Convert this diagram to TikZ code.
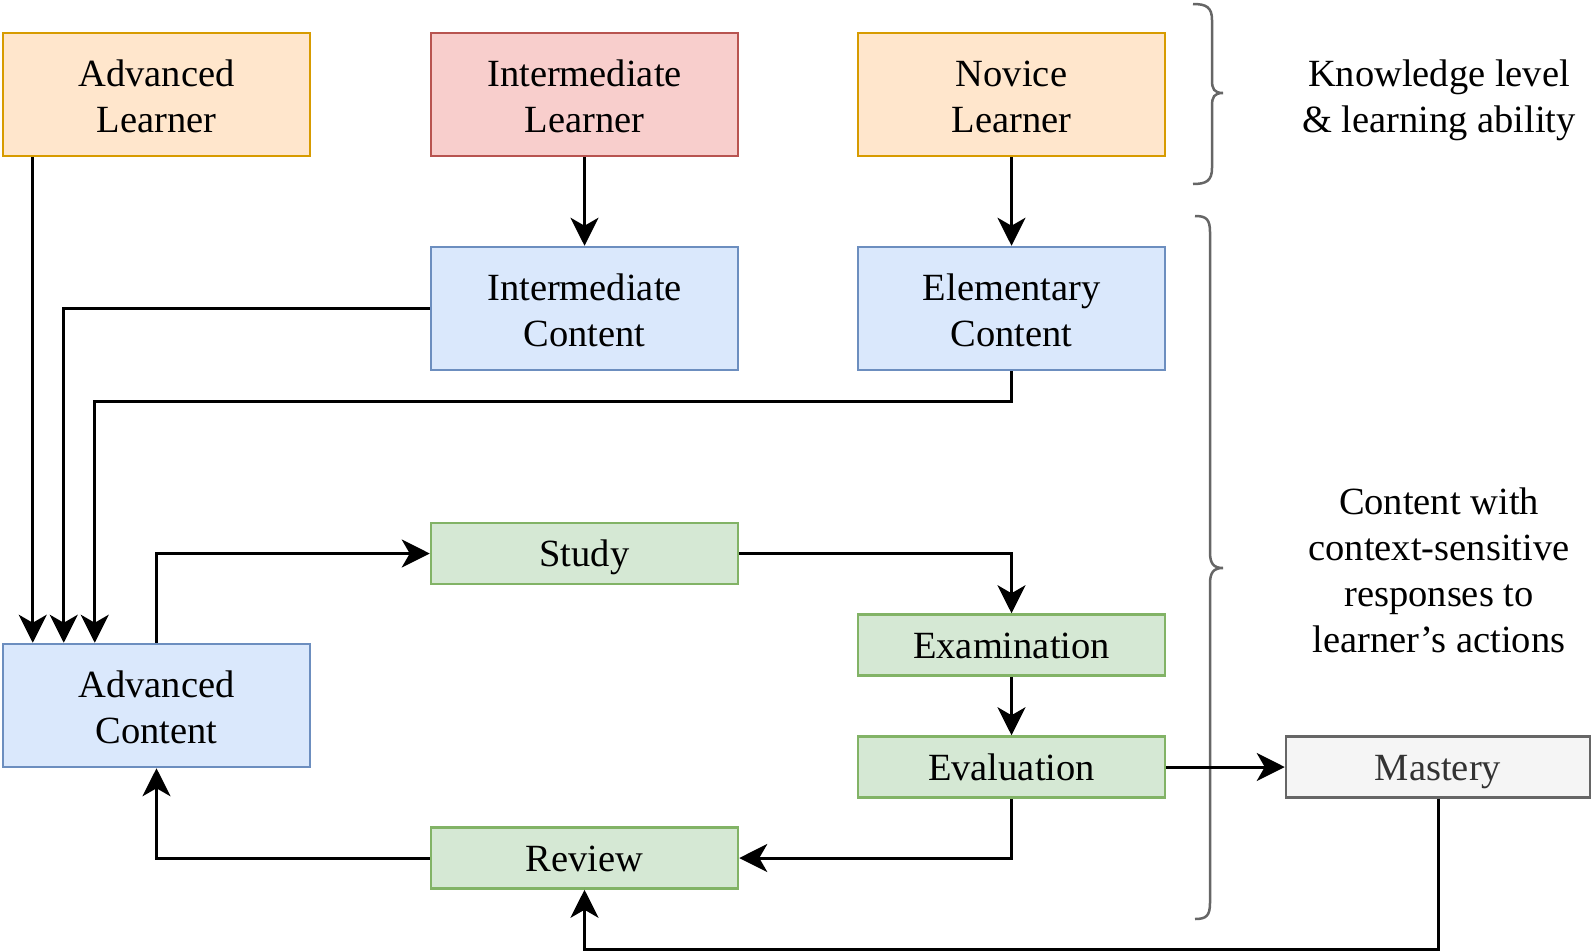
\documentclass[tikz,border=0pt]{standalone}
\usepackage{fontspec}
\setmainfont{Liberation Serif}
\usetikzlibrary{arrows.meta}
\definecolor{orgfill}{HTML}{FFE6CC}\definecolor{orgdraw}{HTML}{D79B00}
\definecolor{redfill}{HTML}{F8CECC}\definecolor{reddraw}{HTML}{B85450}
\definecolor{bluefill}{HTML}{DAE8FC}\definecolor{bluedraw}{HTML}{6C8EBF}
\definecolor{grnfill}{HTML}{D5E8D4}\definecolor{grndraw}{HTML}{82B366}
\definecolor{greyfill}{HTML}{F5F5F5}\definecolor{greydraw}{HTML}{666666}
\definecolor{greytext}{HTML}{333333}
% strut with the font's full ascent and descent, for one-line boxes
\newcommand\linestrut{\rule[-0.216em]{0pt}{1.107em}}
% taller first line, so two-line text sits a little lower in its box
\newcommand\topstrut{\rule{0pt}{31pt}}
\begin{document}
\begin{tikzpicture}[x=1pt,y=-1pt,
  txt/.style={align=center,font=\fontsize{38.5}{46}\selectfont},
  box/.style={txt,draw,line width=2.5pt,inner sep=0pt},
  bigbox/.style={box,minimum width=307pt,minimum height=123pt},
  smallbox/.style={box,minimum width=307pt,minimum height=61pt,
    execute at begin node=\linestrut, execute at end node=\linestrut},
  learnerA/.style={fill=orgfill,draw=orgdraw},
  learnerB/.style={fill=redfill,draw=reddraw},
  content/.style={fill=bluefill,draw=bluedraw},
  activity/.style={fill=grnfill,draw=grndraw},
  arr/.style={line width=3pt,-{Stealth[length=28pt,width=28pt,inset=8pt]}},
  brace/.style={draw=greydraw,line width=2.5pt}]
\useasboundingbox (0,0) rectangle (1591,951);

% learner levels
\node[bigbox,learnerA] (al) at (156.5,94.5) {\topstrut Advanced\\Learner};
\node[bigbox,learnerB] (il) at (584.5,94.5) {\topstrut Intermediate\\Learner};
\node[bigbox,learnerA] (nl) at (1011.5,94.5) {\topstrut Novice\\Learner};

% content levels
\node[bigbox,content] (ic) at (584.5,308.5) {\topstrut Intermediate\\Content};
\node[bigbox,content] (ec) at (1011.5,308.5) {\topstrut Elementary\\Content};
\node[bigbox,content] (ac) at (156.5,705.5) {\topstrut Advanced\\Content};

% learning cycle
\node[smallbox,activity] (st) at (584.5,553.5) {Study};
\node[smallbox,activity] (ex) at (1011.5,645) {Examination};
\node[smallbox,activity] (ev) at (1011.5,767) {Evaluation};
\node[smallbox,activity] (rv) at (584.5,858) {Review};
\node[smallbox,fill=greyfill,draw=greydraw,text=greytext,minimum width=304pt] (ms) at (1438,767) {Mastery};

% side labels
\node[txt] (kl) at (1439,100) {Knowledge level\\\& learning ability};
\node[txt] (cl) at (1439,570) {Content with\\context-sensitive\\responses to\\learner's actions};

% braces
\draw[brace] (1193,4) .. controls (1206,4) and (1212,7) .. (1212,20)
  -- (1212,80) .. controls (1212,89) and (1214,93) .. (1223,93)
  .. controls (1214,93) and (1212,97) .. (1212,106)
  -- (1212,168) .. controls (1212,181) and (1206,184) .. (1193,184);
\draw[brace] (1195,216) .. controls (1206,216) and (1210,219) .. (1210,232)
  -- (1210,552) .. controls (1210,563) and (1213,568) .. (1223,568)
  .. controls (1213,568) and (1210,573) .. (1210,584)
  -- (1210,903) .. controls (1210,916) and (1206,919) .. (1195,919);

% connectors
\draw[arr] (il) -- (ic);
\draw[arr] (nl) -- (ec);
\draw[arr] ([xshift=31pt]al.south west) -- ([xshift=31pt]ac.north west);
\draw[arr] (ic.west) -| ([xshift=62pt]ac.north west);
\draw[arr] (ec.south) -- ++(0,30) -| ([xshift=93pt]ac.north west);
\draw[arr] (ac.north) |- (st.west);
\draw[arr] (st.east) -| (ex.north);
\draw[arr] (ex) -- (ev);
\draw[arr] (ev.east) -- (ms.west);
\draw[arr] (ev.south) |- (rv.east);
\draw[arr] (rv.west) -| (ac.south);
\draw[arr] (ms.south) -- ++(0,151) -| (rv.south);
\end{tikzpicture}
\end{document}
